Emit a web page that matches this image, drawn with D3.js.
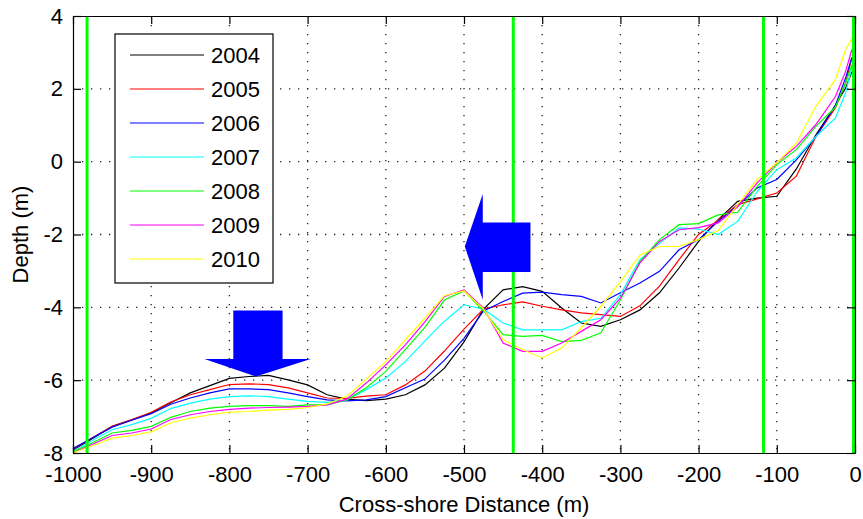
<!DOCTYPE html>
<html>
<head>
<meta charset="utf-8">
<script src="https://cdn.jsdelivr.net/npm/d3@7"></script>
<style>
  body { margin: 0; background: #fff; }
  text { font-family: "Liberation Sans", Arial, sans-serif; }
</style>
</head>
<body>
<div id="chart"></div>
<script>
// cross-shore distance (m) where depth was read
const distance = [-1000,-975,-950,-925,-900,-875,-850,-825,-800,-775,-750,-725,-700,-675,-650,-625,-600,-575,-550,-525,-500,-475,-450,-425,-400,-375,-350,-325,-300,-275,-250,-225,-200,-175,-150,-125,-100,-75,-50,-25,-12,-4];

// depth (m) per survey year
const depth2004 = [-7.92,-7.6,-7.27,-7.09,-6.9,-6.62,-6.35,-6.15,-5.95,-5.9,-5.87,-5.99,-6.13,-6.4,-6.52,-6.56,-6.52,-6.4,-6.13,-5.67,-4.95,-4.05,-3.52,-3.43,-3.56,-4.02,-4.43,-4.52,-4.34,-4.07,-3.6,-2.92,-2.19,-1.59,-1.09,-1.0,-0.95,-0.2,0.74,1.55,2.02,2.47];
const depth2005 = [-7.9,-7.58,-7.27,-7.09,-6.88,-6.6,-6.4,-6.26,-6.12,-6.1,-6.12,-6.21,-6.35,-6.49,-6.5,-6.44,-6.4,-6.13,-5.75,-5.2,-4.6,-4.05,-3.93,-3.85,-3.97,-4.07,-4.15,-4.2,-4.25,-3.96,-3.42,-2.69,-2.0,-1.61,-1.18,-1.02,-0.86,-0.4,0.69,1.48,2.16,2.86];
const depth2006 = [-7.88,-7.58,-7.29,-7.1,-6.92,-6.66,-6.49,-6.35,-6.24,-6.24,-6.26,-6.35,-6.45,-6.54,-6.57,-6.54,-6.45,-6.21,-5.97,-5.45,-4.85,-4.1,-3.84,-3.61,-3.58,-3.65,-3.7,-3.88,-3.6,-3.33,-3.01,-2.42,-2.14,-1.64,-1.21,-0.72,-0.49,0.05,0.69,1.55,2.3,2.86];
const depth2007 = [-7.95,-7.65,-7.36,-7.22,-7.05,-6.78,-6.63,-6.52,-6.45,-6.43,-6.45,-6.52,-6.58,-6.61,-6.54,-6.26,-5.94,-5.49,-4.92,-4.38,-3.93,-4.05,-4.43,-4.62,-4.62,-4.62,-4.39,-4.3,-3.65,-2.69,-2.24,-1.82,-1.85,-2.0,-1.64,-0.82,-0.22,0.1,0.69,1.2,1.89,2.6];
const depth2008 = [-7.97,-7.72,-7.45,-7.38,-7.27,-7.02,-6.86,-6.77,-6.72,-6.7,-6.7,-6.72,-6.68,-6.68,-6.54,-6.21,-5.76,-5.16,-4.55,-3.8,-3.55,-4.1,-4.75,-4.8,-4.77,-4.94,-4.91,-4.7,-3.8,-2.74,-2.14,-1.73,-1.7,-1.46,-1.39,-0.68,-0.08,0.33,0.97,1.5,2.16,2.66];
const depth2009 = [-8.0,-7.76,-7.52,-7.45,-7.34,-7.08,-6.95,-6.86,-6.8,-6.77,-6.75,-6.74,-6.72,-6.68,-6.52,-6.08,-5.58,-5.03,-4.4,-3.7,-3.52,-4.02,-4.98,-5.21,-5.21,-4.98,-4.66,-4.34,-3.75,-2.78,-2.19,-1.87,-1.81,-1.68,-1.24,-0.58,-0.03,0.42,1.02,1.79,2.48,3.08];
const depth2010 = [-8.0,-7.8,-7.59,-7.52,-7.42,-7.17,-7.04,-6.95,-6.88,-6.86,-6.82,-6.8,-6.75,-6.65,-6.45,-5.97,-5.49,-4.89,-4.3,-3.68,-3.55,-4.05,-4.89,-5.16,-5.39,-5.12,-4.56,-3.97,-3.3,-2.56,-2.33,-2.33,-2.14,-1.89,-1.18,-0.49,-0.03,0.51,1.52,2.25,3.08,3.38];

const years = ["2004","2005","2006","2007","2008","2009","2010"];
const depths = [depth2004, depth2005, depth2006, depth2007, depth2008, depth2009, depth2010];
const lineColors = ["#000000","#ff0000","#0000ff","#00ffff","#00ff00","#ff00ff","#ffff00"];

// green section markers (m)
const markers = [-982, -437, -117, 0];

const xTicks = d3.range(-1000, 1, 100);
const yTicks = d3.range(-8, 5, 2);

// block arrows, vertices in data units (distance, depth)
const arrowDown = [[-795,-4.09],[-732,-4.09],[-732,-5.42],[-696,-5.42],[-766,-5.90],[-832,-5.42],[-795,-5.42]];
const arrowLeft = [[-415,-1.67],[-415,-3.03],[-476,-3.03],[-476,-3.79],[-499,-2.33],[-476,-0.89],[-476,-1.67]];

const W = 863, H = 519;
const svg = d3.select("#chart").append("svg")
    .attr("width", W)
    .attr("height", H);

const x = d3.scaleLinear().domain([-1000, 0]).range([73, 855]);
const y = d3.scaleLinear().domain([-8, 4]).range([453, 16]);

// dotted grid
const grid = svg.append("g");
grid.selectAll(".vg")
    .data(xTicks.slice(1, -1))
    .enter().append("line")
    .attr("x1", d => x(d)).attr("x2", d => x(d))
    .attr("y1", y(4)).attr("y2", y(-8))
    .attr("stroke", "#222")
    .attr("stroke-width", 1.3)
    .attr("stroke-dasharray", "1.3,7.7");
grid.selectAll(".hg")
    .data(yTicks.slice(1, -1))
    .enter().append("line")
    .attr("x1", x(-1000)).attr("x2", x(0))
    .attr("y1", d => y(d)).attr("y2", d => y(d))
    .attr("stroke", "#222")
    .attr("stroke-width", 1.3)
    .attr("stroke-dasharray", "1.3,7.7");

// profiles
const line = d3.line()
    .x((d, i) => x(distance[i]))
    .y(d => y(d));

svg.append("g").selectAll("path")
    .data(depths)
    .enter().append("path")
    .attr("d", d => line(d))
    .attr("fill", "none")
    .attr("stroke", (d, i) => lineColors[i])
    .attr("stroke-width", 1.2);

// green markers
svg.append("g").selectAll("line")
    .data(markers)
    .enter().append("line")
    .attr("x1", d => Math.min(x(d), x(0) - 1.5)).attr("x2", d => Math.min(x(d), x(0) - 1.5))
    .attr("y1", y(4)).attr("y2", y(-8))
    .attr("stroke", "#00ff00")
    .attr("stroke-width", 3);

// arrows
const toPts = pts => pts.map(p => x(p[0]) + "," + y(p[1])).join(" ");
svg.append("g").selectAll("polygon")
    .data([arrowDown, arrowLeft])
    .enter().append("polygon")
    .attr("points", d => toPts(d))
    .attr("fill", "#0000ff");

// axes, ticks inward on all four sides
const fontSize = 22;
const plain = d => String(d);
function styleAxis(g) {
    g.attr("font-size", fontSize)
     .attr("font-family", "Liberation Sans, Arial, sans-serif");
    g.selectAll("path, line").attr("stroke", "#000").attr("stroke-width", 1.2);
    g.selectAll("text").attr("fill", "#000");
}
svg.append("g")
    .attr("transform", `translate(0,${y(-8)})`)
    .call(d3.axisBottom(x).tickValues(xTicks).tickFormat(plain).tickSizeInner(-8).tickSizeOuter(0).tickPadding(13))
    .call(styleAxis);
svg.append("g")
    .attr("transform", `translate(0,${y(4)})`)
    .call(d3.axisTop(x).tickValues(xTicks).tickSizeInner(-8).tickSizeOuter(0).tickFormat(""))
    .call(styleAxis);
svg.append("g")
    .attr("transform", `translate(${x(-1000)},0)`)
    .call(d3.axisLeft(y).tickValues(yTicks).tickFormat(plain).tickSizeInner(-8).tickSizeOuter(0).tickPadding(10))
    .call(styleAxis);
svg.append("g")
    .attr("transform", `translate(${x(0)},0)`)
    .call(d3.axisRight(y).tickValues(yTicks).tickSizeInner(-8).tickSizeOuter(0).tickFormat(""))
    .call(styleAxis);

// axis titles
svg.append("text")
    .attr("x", (x(-1000) + x(0)) / 2)
    .attr("y", 512)
    .attr("text-anchor", "middle")
    .attr("font-size", fontSize)
    .text("Cross-shore Distance (m)");
svg.append("text")
    .attr("transform", `translate(28,${(y(4) + y(-8)) / 2}) rotate(-90)`)
    .attr("text-anchor", "middle")
    .attr("font-size", fontSize)
    .text("Depth (m)");

// legend
const legend = svg.append("g").attr("transform", "translate(115,34)");
legend.append("rect")
    .attr("width", 158)
    .attr("height", 249)
    .attr("fill", "#fff")
    .attr("stroke", "#000")
    .attr("stroke-width", 1.2);
const rows = legend.selectAll(".row")
    .data(years)
    .enter().append("g")
    .attr("transform", (d, i) => `translate(0,${21 + i * 34})`);
rows.append("line")
    .attr("x1", 15).attr("x2", 89)
    .attr("stroke", (d, i) => lineColors[i])
    .attr("stroke-width", 1.2);
rows.append("text")
    .attr("x", 96)
    .attr("dy", "0.36em")
    .attr("font-size", fontSize)
    .text(d => d);
</script>
</body>
</html>
